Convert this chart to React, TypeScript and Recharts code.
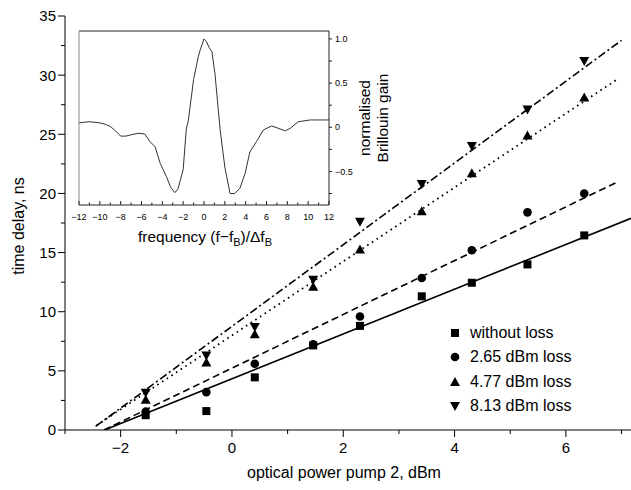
import React from "react";
import { ComposedChart, Line, Scatter, XAxis, YAxis, Legend } from "recharts";

const FONT = '"Liberation Sans", Arial, Helvetica, sans-serif';

// main plot: pump power (dBm) vs time delay (ns)
const pumpPower = [-1.55, -0.46, 0.41, 1.46, 2.3, 3.41, 4.31, 5.31, 6.33];
const delayNoLoss = [1.25, 1.6, 4.45, 7.15, 8.8, 11.3, 12.45, 14.0, 16.45];
const delay265 = [1.55, 3.2, 5.6, 7.25, 9.6, 12.85, 15.2, 18.4, 20.0];
const delay477 = [2.55, 5.7, 8.1, 12.1, 15.25, 18.5, 21.7, 24.9, 28.1];
const delay813 = [3.15, 6.3, 8.7, 12.7, 17.6, 20.8, 24.0, 27.1, 31.2];

// linear fits (end points)
const fitNoLossX = [-2.29, 7.17];
const fitNoLossY = [0, 17.9];
const fit265X = [-2.3, 6.94];
const fit265Y = [0, 21.0];
const fit477X = [-2.43, 6.94];
const fit477Y = [0.4, 29.7];
const fit813X = [-2.45, 7.0];
const fit813Y = [0.3, 32.94];

const legendLabels = ["without loss", "2.65 dBm loss", "4.77 dBm loss", "8.13 dBm loss"];

const mainXTicks = [-3, -2, -1, 0, 1, 2, 3, 4, 5, 6, 7];
const mainYTicks = [0, 2.5, 5, 7.5, 10, 12.5, 15, 17.5, 20, 22.5, 25, 27.5, 30, 32.5, 35];

// inset: normalised Brillouin gain vs (f - fB)/dfB
const freqOffset = [-12, -11, -10, -9.5, -9, -8.5, -8, -7.5, -7, -6.3, -5.7, -5.2, -4.7, -4.2, -3.6, -3.2, -2.8, -2.5, -2.0, -1.7, -1.5, -1.0, -0.55, -0.35, 0, 0.25, 0.5, 0.75, 1.05, 1.55, 2.0, 2.5, 2.95, 3.45, 3.95, 4.4, 5.05, 5.7, 6.5, 7.1, 7.8, 8.3, 9.05, 10.2, 12];
const gain = [0.05, 0.063, 0.05, 0.035, 0.01, -0.04, -0.1, -0.1, -0.085, -0.068, -0.076, -0.16, -0.22, -0.41, -0.56, -0.68, -0.74, -0.7, -0.48, -0.02, 0.08, 0.54, 0.8, 0.88, 1.0, 0.97, 0.9, 0.86, 0.61, -0.03, -0.45, -0.75, -0.75, -0.69, -0.52, -0.28, -0.16, -0.03, 0.015, -0.01, -0.04, -0.01, 0.063, 0.083, 0.083];

const insetXTicks = [-12, -11, -10, -9, -8, -7, -6, -5, -4, -3, -2, -1, 0, 1, 2, 3, 4, 5, 6, 7, 8, 9, 10, 11, 12];
const insetYTicks = [-0.75, -0.5, -0.25, 0, 0.25, 0.5, 0.75, 1.0];
const insetYLabels = [-0.5, 0, 0.5, 1.0];

const pts = (xs: number[], ys: number[]) => xs.map((x, i) => ({ x, y: ys[i] }));
const fmt = (v: number) => (v < 0 ? "\u2212" + Math.abs(v) : String(v));

// marker shapes
const Square = ({ cx, cy }: any) => <rect x={cx - 4} y={cy - 4} width={8} height={8} fill="#000" />;
const Dot = ({ cx, cy }: any) => <circle cx={cx} cy={cy} r={4.3} fill="#000" />;
const TriUp = ({ cx, cy }: any) => (
    <polygon points={`${cx},${cy - 5} ${cx - 5},${cy + 4} ${cx + 5},${cy + 4}`} fill="#000" />
);
const TriDown = ({ cx, cy }: any) => (
    <polygon points={`${cx},${cy + 5} ${cx - 5},${cy - 4} ${cx + 5},${cy - 4}`} fill="#000" />
);
const SHAPES = [Square, Dot, TriUp, TriDown];

const MainXTick = ({ x, y, payload }: any) => {
    const v = payload.value;
    const major = Math.abs(v % 2) === 0;
    return (
        <g>
            <line x1={x} y1={y} x2={x} y2={y + (major ? 7 : 4)} stroke="#000" />
            {major && (
                <text x={x} y={y + 23} textAnchor="middle" fontSize={15} fontFamily={FONT} fill="#000">
                    {fmt(v)}
                </text>
            )}
        </g>
    );
};

const MainYTick = ({ x, y, payload }: any) => {
    const v = payload.value;
    const major = v % 5 === 0;
    return (
        <g>
            <line x1={x} y1={y} x2={x - (major ? 7 : 4)} y2={y} stroke="#000" />
            {major && (
                <text x={x - 9} y={y + 5.4} textAnchor="end" fontSize={15} fontFamily={FONT} fill="#000">
                    {v}
                </text>
            )}
        </g>
    );
};

const InsetBottomTick = ({ x, y, payload }: any) => {
    const v = payload.value;
    const major = Math.abs(v % 2) === 0;
    return (
        <g>
            <line x1={x} y1={y} x2={x} y2={y - (major ? 4 : 2.5)} stroke="#222" />
            {major && (
                <text x={x} y={y + 15} textAnchor="middle" fontSize={9} fontFamily={FONT} fill="#000">
                    {fmt(v)}
                </text>
            )}
        </g>
    );
};

const InsetTopTick = ({ x, y, payload }: any) => {
    const major = Math.abs(payload.value % 2) === 0;
    return <line x1={x} y1={y} x2={x} y2={y + (major ? 4 : 2.5)} stroke="#222" />;
};

const InsetLeftTick = ({ x, y }: any) => <line x1={x} y1={y} x2={x + 3} y2={y} stroke="#444" />;

const InsetRightTick = ({ x, y, payload }: any) => {
    const v = payload.value;
    const show = insetYLabels.includes(v);
    const label = v === 0 ? "0" : (v < 0 ? "\u2212" : "") + Math.abs(v).toFixed(1);
    return (
        <g>
            <line x1={x} y1={y} x2={x + 3} y2={y} stroke="#222" />
            {show && (
                <text x={x + 6} y={y + 3.2} fontSize={9} fontFamily={FONT} fill="#000">
                    {label}
                </text>
            )}
        </g>
    );
};

const renderLegend = () => (
    <div style={{ fontFamily: FONT, fontSize: 16, color: "#000" }}>
        {legendLabels.map((name, i) => {
            const Shape = SHAPES[i];
            return (
                <div key={name} style={{ display: "flex", alignItems: "center", height: 24.3 }}>
                    <svg width={16} height={16} style={{ marginRight: 7 }}>
                        <Shape cx={8} cy={8} />
                    </svg>
                    <span>{name}</span>
                </div>
            );
        })}
    </div>
);

function InsetChart() {
    const data = pts(freqOffset, gain);
    return (
        <div style={{ position: "absolute", left: 60, top: 20 }}>
            <ComposedChart width={340} height={240} margin={{ top: 0, right: 0, bottom: 0, left: 0 }}>
                <XAxis
                    xAxisId="b"
                    type="number"
                    dataKey="x"
                    domain={[-12, 12]}
                    ticks={insetXTicks}
                    interval={0}
                    height={55}
                    tickSize={0}
                    tickMargin={0}
                    tickLine={false}
                    stroke="#222"
                    tick={(p: any) => <InsetBottomTick {...p} />}
                    label={(p: any) => {
                        const vb = p.viewBox;
                        const cx = vb.x + vb.width / 2 + 1;
                        const cy = vb.y + 36.5;
                        return (
                            <text x={cx} y={cy} textAnchor="middle" fontSize={15.5} fontFamily={FONT} fill="#000">
                                frequency (f{"\u2212"}f
                                <tspan dy={4} fontSize={11}>B</tspan>
                                <tspan dy={-4}>)/Δf</tspan>
                                <tspan dy={4} fontSize={11}>B</tspan>
                            </text>
                        );
                    }}
                />
                <XAxis
                    xAxisId="t"
                    orientation="top"
                    type="number"
                    domain={[-12, 12]}
                    ticks={insetXTicks}
                    interval={0}
                    height={11}
                    tickSize={0}
                    tickMargin={0}
                    tickLine={false}
                    stroke="#222"
                    tick={(p: any) => <InsetTopTick {...p} />}
                />
                <YAxis
                    yAxisId="l"
                    type="number"
                    domain={[-0.88, 1.09]}
                    ticks={insetYTicks}
                    interval={0}
                    width={19}
                    tickSize={0}
                    tickMargin={0}
                    tickLine={false}
                    stroke="#888"
                    tick={(p: any) => <InsetLeftTick {...p} />}
                />
                <YAxis
                    yAxisId="r"
                    orientation="right"
                    type="number"
                    domain={[-0.88, 1.09]}
                    ticks={insetYTicks}
                    interval={0}
                    width={71}
                    tickSize={0}
                    tickMargin={0}
                    tickLine={false}
                    stroke="#222"
                    tick={(p: any) => <InsetRightTick {...p} />}
                    label={(p: any) => {
                        const vb = p.viewBox;
                        const cy = vb.y + vb.height / 2;
                        const x1 = vb.x + 41;
                        const x2 = vb.x + 59;
                        return (
                            <g fontSize={15.5} fontFamily={FONT} fill="#000">
                                <text x={x1} y={cy} textAnchor="middle" transform={`rotate(-90, ${x1}, ${cy})`}>
                                    normalised
                                </text>
                                <text x={x2} y={cy} textAnchor="middle" transform={`rotate(-90, ${x2}, ${cy})`}>
                                    Brillouin gain
                                </text>
                            </g>
                        );
                    }}
                />
                <Line
                    xAxisId="b"
                    yAxisId="r"
                    data={data}
                    dataKey="y"
                    type="linear"
                    stroke="#333"
                    strokeWidth={1}
                    dot={false}
                    isAnimationActive={false}
                />
            </ComposedChart>
        </div>
    );
}

export default function App() {
    const series = [delayNoLoss, delay265, delay477, delay813];
    return (
        <div style={{ position: "absolute", left: 0, top: 0, width: 631, height: 490, background: "#fff" }}>
            <ComposedChart width={631} height={490} margin={{ top: 16, right: 0, bottom: 0, left: 0 }}>
                <XAxis
                    type="number"
                    dataKey="x"
                    domain={[-3, 7.17]}
                    ticks={mainXTicks}
                    interval={0}
                    height={60}
                    tickSize={0}
                    tickMargin={0}
                    tickLine={false}
                    stroke="#000"
                    allowDataOverflow
                    tick={(p: any) => <MainXTick {...p} />}
                    label={(p: any) => {
                        const vb = p.viewBox;
                        return (
                            <text x={344} y={vb.y + 47.5} textAnchor="middle" fontSize={16} fontFamily={FONT} fill="#000">
                                optical power pump 2, dBm
                            </text>
                        );
                    }}
                />
                <YAxis
                    type="number"
                    domain={[0, 35]}
                    ticks={mainYTicks}
                    interval={0}
                    width={65}
                    tickSize={0}
                    tickMargin={0}
                    tickLine={false}
                    stroke="#000"
                    allowDataOverflow
                    tick={(p: any) => <MainYTick {...p} />}
                    label={(p: any) => {
                        const cy = 226;
                        const x = 23.5;
                        return (
                            <text x={x} y={cy} textAnchor="middle" fontSize={16} fontFamily={FONT} fill="#000" transform={`rotate(-90, ${x}, ${cy})`}>
                                time delay, ns
                            </text>
                        );
                    }}
                />
                <Line data={pts(fitNoLossX, fitNoLossY)} dataKey="y" type="linear" stroke="#000" strokeWidth={1.6} dot={false} isAnimationActive={false} legendType="none" />
                <Line data={pts(fit265X, fit265Y)} dataKey="y" type="linear" stroke="#000" strokeWidth={1.6} strokeDasharray="7 4" dot={false} isAnimationActive={false} legendType="none" />
                <Line data={pts(fit477X, fit477Y)} dataKey="y" type="linear" stroke="#000" strokeWidth={1.8} strokeDasharray="1.6 4" dot={false} isAnimationActive={false} legendType="none" />
                <Line data={pts(fit813X, fit813Y)} dataKey="y" type="linear" stroke="#000" strokeWidth={1.6} strokeDasharray="8 3 2 3" dot={false} isAnimationActive={false} legendType="none" />
                {series.map((ys, i) => (
                    <Scatter
                        key={legendLabels[i]}
                        name={legendLabels[i]}
                        data={pts(pumpPower, ys)}
                        dataKey="y"
                        fill="#000"
                        shape={SHAPES[i]}
                        isAnimationActive={false}
                    />
                ))}
                <Legend
                    layout="vertical"
                    align="center"
                    verticalAlign="middle"
                    content={renderLegend}
                    wrapperStyle={{ left: 447, top: 321, width: 170, height: 100 }}
                />
            </ComposedChart>
            <InsetChart />
        </div>
    );
}
